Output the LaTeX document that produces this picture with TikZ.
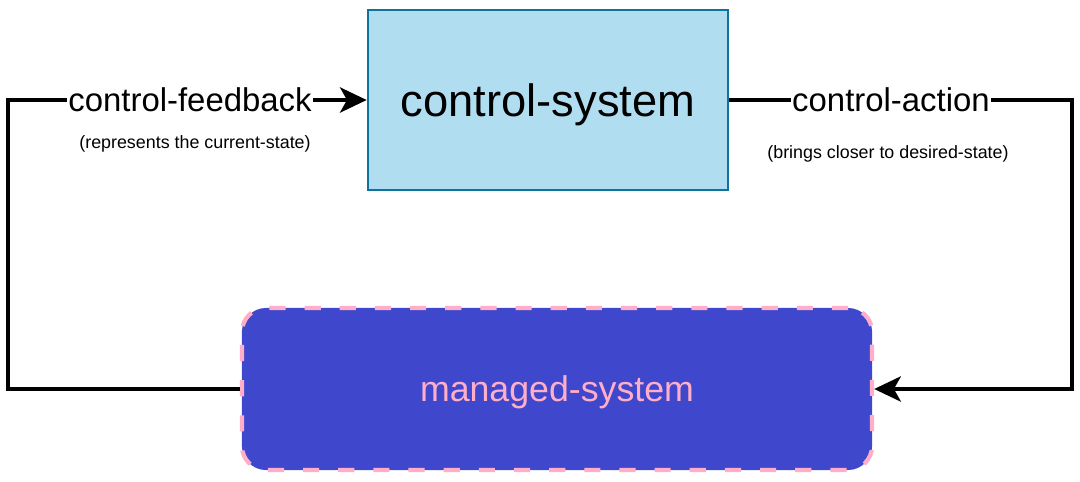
\documentclass[tikz,border=0pt]{standalone}
\usepackage{fontspec}
\setmainfont{Liberation Sans}
\usepackage{tikz}
\usetikzlibrary{arrows.meta,positioning}

\definecolor{ctrlfill}{HTML}{B1DDF0}
\definecolor{ctrldraw}{HTML}{10739E}
\definecolor{mgdfill}{HTML}{3F48CC}
\definecolor{mgdpink}{HTML}{FFAEC9}

\tikzset{
  sysbox/.style={draw=ctrldraw, fill=ctrlfill, line width=1.8pt, minimum width=9cm, minimum height=4.5cm,
    font=\fontsize{32.2}{36}\selectfont, text depth=0pt},
  mgdbox/.style={draw=mgdpink, fill=mgdfill, line width=3pt, dash pattern=on 11.5pt off 13.5pt,
    rounded corners=0.6cm, minimum width=15.75cm, minimum height=4.05cm, text=mgdpink,
    font=\fontsize{25.4}{30}\selectfont, text depth=0pt},
  lbl/.style={inner sep=0.5pt, font=\fontsize{23.4}{28}\selectfont, text depth=0pt},
  note/.style={inner sep=0pt, font=\fontsize{12.7}{15}\selectfont},
  flow/.style={line width=2.4pt},
  tip/.style={-{Stealth[length=19pt,width=18pt,inset=5pt]}}
}

\begin{document}
\begin{tikzpicture}[x=0.025cm, y=-0.025cm]
    \useasboundingbox (0,0) rectangle (1080,481);
    \node[sysbox] (ctrl) at (548,100) {control-system};
    \node[mgdbox] (mgd) at (557,389) {managed-system};
    \coordinate (fbl) at (8,250);
    \coordinate (acr) at (1072,250);
    \node[lbl] (fbtext) at (190,100) {control-feedback};
    \node[note] (fbnote) at (195,144) {(represents the current-state)};
    \node[lbl] (actext) at (891,100) {control-action};
    \node[note] (acnote) at (888,154) {(brings closer to desired-state)};
    \draw[flow] (mgd.west) -| (fbl) |- (fbtext.west);
    \draw[flow, tip] (fbtext.east) -- (ctrl.west);
    \draw[flow] (ctrl.east) -- (actext.west);
    \draw[flow, tip] (actext.east) -| (acr) |- (mgd.east);
\end{tikzpicture}
\end{document}
